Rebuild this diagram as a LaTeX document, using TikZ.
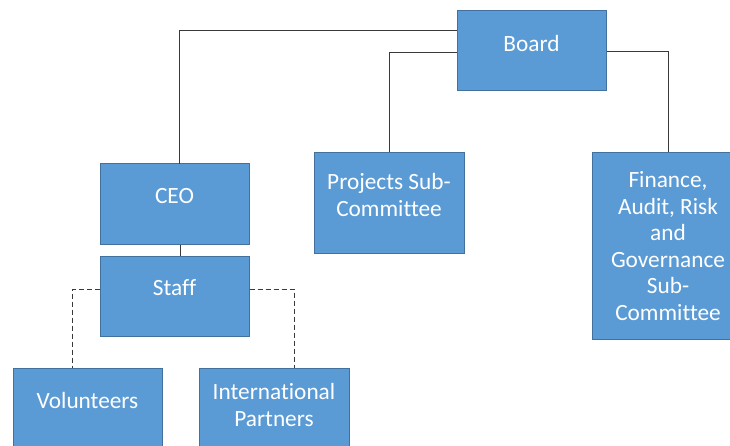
\documentclass[tikz,border=0pt]{standalone}
\usepackage{fontspec}
\setmainfont{Carlito}[Ligatures=NoCommon]
\usetikzlibrary{positioning}
\definecolor{boxblue}{HTML}{5B9BD5}
\definecolor{boxedge}{HTML}{41719C}
\definecolor{linegray}{HTML}{3A3A3A}

\begin{document}
\begin{tikzpicture}[x=1pt, y=-1pt,
    box/.style={draw=boxedge, line width=1pt, fill=boxblue, text=white,
      font=\fontsize{23.3}{26.5}\selectfont, align=center, inner sep=0pt,
      minimum width=149pt, minimum height=80pt, text depth=16pt},
    link/.style={draw=linegray, line width=1pt},
    dotlink/.style={link, dash pattern=on 5pt off 3pt}]
      \useasboundingbox (0,0) rectangle (730,446);
      \node[box] (board) at (531.5,51) {Board};
      \node[box, minimum width=150pt, minimum height=100pt] (proj) at (389,203) {Projects Sub-\\Committee};
      \node[box, minimum width=152pt, minimum height=186pt, text depth=0pt] (fin) at (668,246)
        {Finance,\\Audit, Risk\\and\\Governance\\Sub-\\Committee};
      \node[box] (ceo) at (174.5,204) {CEO};
      \node[box] (staff) at (174.5,296) {Staff};
      \node[box, minimum height=84pt, text depth=20pt] (vol) at (87.5,410) {Volunteers};
      \node[box, minimum width=150pt, minimum height=84pt, text depth=10pt] (intl) at (274,410) {International\\Partners};
      \coordinate (ceotop) at (179,164);
      \coordinate (voltop) at (72,368);
      \coordinate (intltop) at (294,368);
      \draw[link] ([yshift=20pt]board.west) -| (ceotop);
      \draw[link] ([yshift=-2pt]board.west) -| (proj.north);
      \draw[link] ([yshift=-1pt]board.east) -| (fin.north);
      \draw[link] ([xshift=6pt]ceo.south) -- ([xshift=6pt]staff.north);
      \draw[dotlink] ([yshift=7pt]staff.west) -| (voltop);
      \draw[dotlink] ([yshift=7pt]staff.east) -| (intltop);
\end{tikzpicture}
\end{document}
